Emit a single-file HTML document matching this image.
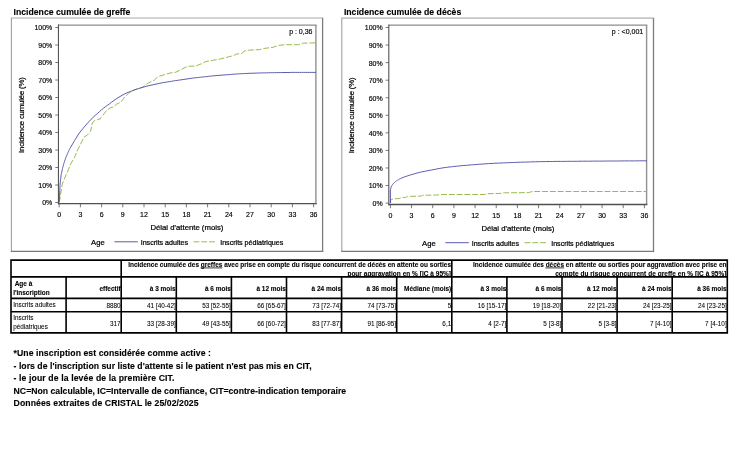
<!DOCTYPE html>
<html lang="fr"><head><meta charset="utf-8"><title>Incidence cumulée</title>
<style>
html,body{margin:0;padding:0;background:#fff}
body{width:750px;height:456px;position:relative;overflow:hidden;font-family:"Liberation Sans",Arial,sans-serif;color:#000}
svg{position:absolute;left:0;top:0}
svg text{font-family:"Liberation Sans",Arial,sans-serif;fill:#000;stroke:#000;stroke-width:0.22px}
.tk{font-size:7px;stroke-width:0.15px}
.al{font-size:7.75px}
.lg{font-size:7.1px}
.lg2{font-size:7.7px}
.tt{font-size:8.7px;font-weight:bold;stroke-width:0.12px}
.td{font-size:6.36px;stroke-width:0.06px}
.th{font-size:6.48px;font-weight:bold;stroke-width:0.1px}
.nt{font-size:8.67px;font-weight:bold;stroke-width:0.12px}
</style></head><body>
<svg width="750" height="456" viewBox="0 0 750 456">
<rect x="11.4" y="18.0" width="311.20000000000005" height="233.35" fill="#fff" stroke="none"/>
<line x1="10.9" y1="18.0" x2="323.20000000000005" y2="18.0" stroke="#c6c6c6" stroke-width="1.7"/>
<line x1="11.4" y1="18.0" x2="11.4" y2="251.95" stroke="#a0a0a0" stroke-width="1.1"/>
<line x1="322.6" y1="18.0" x2="322.6" y2="251.95" stroke="#7c7c7c" stroke-width="1.3"/>
<line x1="10.9" y1="251.35" x2="323.20000000000005" y2="251.35" stroke="#787878" stroke-width="1.25"/>
<line x1="57.95" y1="25.1" x2="316.59999999999997" y2="25.1" stroke="#8c8c8c" stroke-width="1.3"/>
<line x1="315.9" y1="25.1" x2="315.9" y2="204.2" stroke="#909090" stroke-width="1.4"/>
<line x1="58.45" y1="24.6" x2="58.45" y2="204.29999999999998" stroke="#555" stroke-width="1.1"/>
<line x1="57.95" y1="203.6" x2="316.59999999999997" y2="203.6" stroke="#505050" stroke-width="1.45"/>
<line x1="55.25" y1="202.50" x2="58.45" y2="202.50" stroke="#555" stroke-width="0.8"/>
<text x="52.35" y="205.45" text-anchor="end" class="tk">0%</text>
<line x1="55.25" y1="185.00" x2="58.45" y2="185.00" stroke="#555" stroke-width="0.8"/>
<text x="52.35" y="187.95" text-anchor="end" class="tk">10%</text>
<line x1="55.25" y1="167.50" x2="58.45" y2="167.50" stroke="#555" stroke-width="0.8"/>
<text x="52.35" y="170.45" text-anchor="end" class="tk">20%</text>
<line x1="55.25" y1="150.00" x2="58.45" y2="150.00" stroke="#555" stroke-width="0.8"/>
<text x="52.35" y="152.95" text-anchor="end" class="tk">30%</text>
<line x1="55.25" y1="132.50" x2="58.45" y2="132.50" stroke="#555" stroke-width="0.8"/>
<text x="52.35" y="135.45" text-anchor="end" class="tk">40%</text>
<line x1="55.25" y1="115.00" x2="58.45" y2="115.00" stroke="#555" stroke-width="0.8"/>
<text x="52.35" y="117.95" text-anchor="end" class="tk">50%</text>
<line x1="55.25" y1="97.50" x2="58.45" y2="97.50" stroke="#555" stroke-width="0.8"/>
<text x="52.35" y="100.45" text-anchor="end" class="tk">60%</text>
<line x1="55.25" y1="80.00" x2="58.45" y2="80.00" stroke="#555" stroke-width="0.8"/>
<text x="52.35" y="82.95" text-anchor="end" class="tk">70%</text>
<line x1="55.25" y1="62.50" x2="58.45" y2="62.50" stroke="#555" stroke-width="0.8"/>
<text x="52.35" y="65.45" text-anchor="end" class="tk">80%</text>
<line x1="55.25" y1="45.00" x2="58.45" y2="45.00" stroke="#555" stroke-width="0.8"/>
<text x="52.35" y="47.95" text-anchor="end" class="tk">90%</text>
<line x1="55.25" y1="27.50" x2="58.45" y2="27.50" stroke="#555" stroke-width="0.8"/>
<text x="52.35" y="30.45" text-anchor="end" class="tk">100%</text>
<line x1="59.20" y1="203.6" x2="59.20" y2="207.29999999999998" stroke="#555" stroke-width="0.8"/>
<text x="59.20" y="216.80" text-anchor="middle" class="tk">0</text>
<line x1="80.40" y1="203.6" x2="80.40" y2="207.29999999999998" stroke="#555" stroke-width="0.8"/>
<text x="80.40" y="216.80" text-anchor="middle" class="tk">3</text>
<line x1="101.60" y1="203.6" x2="101.60" y2="207.29999999999998" stroke="#555" stroke-width="0.8"/>
<text x="101.60" y="216.80" text-anchor="middle" class="tk">6</text>
<line x1="122.80" y1="203.6" x2="122.80" y2="207.29999999999998" stroke="#555" stroke-width="0.8"/>
<text x="122.80" y="216.80" text-anchor="middle" class="tk">9</text>
<line x1="144.00" y1="203.6" x2="144.00" y2="207.29999999999998" stroke="#555" stroke-width="0.8"/>
<text x="144.00" y="216.80" text-anchor="middle" class="tk">12</text>
<line x1="165.20" y1="203.6" x2="165.20" y2="207.29999999999998" stroke="#555" stroke-width="0.8"/>
<text x="165.20" y="216.80" text-anchor="middle" class="tk">15</text>
<line x1="186.40" y1="203.6" x2="186.40" y2="207.29999999999998" stroke="#555" stroke-width="0.8"/>
<text x="186.40" y="216.80" text-anchor="middle" class="tk">18</text>
<line x1="207.60" y1="203.6" x2="207.60" y2="207.29999999999998" stroke="#555" stroke-width="0.8"/>
<text x="207.60" y="216.80" text-anchor="middle" class="tk">21</text>
<line x1="228.80" y1="203.6" x2="228.80" y2="207.29999999999998" stroke="#555" stroke-width="0.8"/>
<text x="228.80" y="216.80" text-anchor="middle" class="tk">24</text>
<line x1="250.00" y1="203.6" x2="250.00" y2="207.29999999999998" stroke="#555" stroke-width="0.8"/>
<text x="250.00" y="216.80" text-anchor="middle" class="tk">27</text>
<line x1="271.20" y1="203.6" x2="271.20" y2="207.29999999999998" stroke="#555" stroke-width="0.8"/>
<text x="271.20" y="216.80" text-anchor="middle" class="tk">30</text>
<line x1="292.40" y1="203.6" x2="292.40" y2="207.29999999999998" stroke="#555" stroke-width="0.8"/>
<text x="292.40" y="216.80" text-anchor="middle" class="tk">33</text>
<line x1="313.60" y1="203.6" x2="313.60" y2="207.29999999999998" stroke="#555" stroke-width="0.8"/>
<text x="313.60" y="216.80" text-anchor="middle" class="tk">36</text>
<text x="186.90" y="230.20" text-anchor="middle" class="al">Délai d'attente (mois)</text>
<text transform="translate(23.70,115.00) rotate(-90)" text-anchor="middle" class="al" textLength="75.8" lengthAdjust="spacing">Incidence cumulée (%)</text>
<text x="312.50" y="34.00" text-anchor="end" class="tk">p : 0,36</text>
<path d="M59.3,202.4 L60.3,196.4 L62.2,184.3 L64.6,178.3 L68.3,169.9 L70.7,163.9 L74.3,157.8 L77.9,149.4 L81.5,142.2 L83.9,137.3 L87.5,134.9 L90.7,131.3 L91.9,124.1 L93.6,121.2 L97.2,119.8 L100.3,118.8 L100.9,117.6 L103.9,114.0 L106.8,110.1 L110.8,107.7 L113.7,106.7 L116.7,104.1 L120.7,102.2 L124.6,97.2 L128.5,93.3 L134.5,89.9 L142.4,87.4 L148.3,83.0 L154.2,80.1 L158.1,76.5 L163.1,75.1 L170.0,73.0 L175.9,72.2 L181.8,69.2 L187.8,66.2 L195.6,66.1 L201.6,63.7 L205.9,61.5 L213.8,60.1 L219.7,59.1 L225.7,57.6 L233.6,55.6 L236.5,54.0 L241.4,53.6 L244.4,51.1 L249.3,50.1 L259.2,49.7 L265.1,48.3 L273.0,47.3 L278.9,45.3 L284.9,44.7 L298.7,44.7 L302.6,43.2 L315.5,42.8" fill="none" stroke="#8db33a" stroke-width="0.9" stroke-dasharray="5.9 1.9"/>
<path d="M59.2,202.5 L59.5,196.1 L59.8,190.3 L60.0,185.4 L60.3,181.8 L60.6,179.3 L60.9,177.2 L61.1,175.3 L61.4,173.7 L61.7,172.3 L62.0,171.0 L62.2,169.7 L62.5,168.5 L62.8,167.3 L63.1,166.3 L63.4,165.2 L63.6,164.3 L63.9,163.3 L64.2,162.4 L64.5,161.6 L64.7,160.8 L65.0,160.0 L65.3,159.2 L65.6,158.4 L65.8,157.7 L66.1,156.9 L66.4,156.2 L66.7,155.5 L67.0,154.9 L67.2,154.2 L67.5,153.6 L67.8,153.0 L68.1,152.4 L68.3,151.8 L68.6,151.2 L68.9,150.6 L69.2,150.1 L69.4,149.5 L69.7,149.0 L70.0,148.4 L70.5,147.5 L72.6,143.9 L74.6,140.5 L76.7,137.1 L78.7,133.9 L80.8,131.1 L82.9,128.6 L84.9,126.2 L87.0,123.8 L89.1,121.5 L91.1,119.3 L93.2,117.3 L95.2,115.4 L97.3,113.6 L99.4,111.7 L101.4,109.9 L103.5,108.2 L105.6,106.7 L107.6,105.2 L109.7,103.7 L111.7,102.1 L113.8,100.6 L115.9,99.1 L117.9,97.8 L120.0,96.5 L122.1,95.3 L124.1,94.2 L126.2,93.2 L128.2,92.3 L130.3,91.5 L132.4,90.7 L134.4,89.9 L136.5,89.2 L138.6,88.6 L140.6,87.9 L142.7,87.3 L144.7,86.8 L146.8,86.2 L148.9,85.7 L150.9,85.2 L153.0,84.8 L155.0,84.3 L157.1,83.9 L159.2,83.4 L161.2,83.0 L163.3,82.6 L165.4,82.3 L167.4,81.9 L169.5,81.6 L171.5,81.3 L173.6,80.9 L175.7,80.6 L177.7,80.3 L179.8,80.0 L181.9,79.7 L183.9,79.4 L186.0,79.1 L188.0,78.8 L190.1,78.5 L192.2,78.2 L194.2,77.9 L196.3,77.7 L198.4,77.5 L200.4,77.2 L202.5,77.0 L204.5,76.8 L206.6,76.6 L208.7,76.3 L210.7,76.1 L212.8,75.9 L214.9,75.7 L216.9,75.5 L219.0,75.4 L221.0,75.2 L223.1,75.0 L225.2,74.9 L227.2,74.7 L229.3,74.6 L231.4,74.4 L233.4,74.2 L235.5,74.1 L237.5,73.9 L239.6,73.8 L241.7,73.7 L243.7,73.6 L245.8,73.5 L247.8,73.4 L249.9,73.3 L252.0,73.2 L254.0,73.2 L256.1,73.1 L258.2,73.0 L260.2,73.0 L262.3,72.9 L264.3,72.9 L266.4,72.8 L268.5,72.8 L270.5,72.7 L272.6,72.7 L274.7,72.7 L276.7,72.6 L278.8,72.6 L280.8,72.6 L282.9,72.5 L285.0,72.5 L287.0,72.5 L289.1,72.5 L291.2,72.4 L293.2,72.4 L295.3,72.4 L297.3,72.4 L299.4,72.4 L301.5,72.4 L303.5,72.4 L305.6,72.4 L307.7,72.4 L309.7,72.4 L311.8,72.4 L313.8,72.4 L315.9,72.4" fill="none" stroke="#4a4aa6" stroke-width="0.9"/>
<text x="91.10" y="244.80" class="lg2">Age</text>
<line x1="114.40" y1="241.8" x2="137.80" y2="241.8" stroke="#4a4aa6" stroke-width="0.9"/>
<text x="140.70" y="244.80" class="lg">Inscrits adultes</text>
<line x1="193.50" y1="241.8" x2="215.70" y2="241.8" stroke="#8db33a" stroke-width="0.9" stroke-dasharray="5.9 1.9"/>
<text x="220.20" y="244.80" class="lg">Inscrits pédiatriques</text>
<text x="13.50" y="14.6" class="tt">Incidence cumulée de greffe</text>
<rect x="341.8" y="18.2" width="311.7" height="233.20000000000002" fill="#fff" stroke="none"/>
<line x1="341.3" y1="18.2" x2="654.1" y2="18.2" stroke="#c6c6c6" stroke-width="1.7"/>
<line x1="341.8" y1="18.2" x2="341.8" y2="252.0" stroke="#a0a0a0" stroke-width="1.1"/>
<line x1="653.5" y1="18.2" x2="653.5" y2="252.0" stroke="#7c7c7c" stroke-width="1.3"/>
<line x1="341.3" y1="251.4" x2="654.1" y2="251.4" stroke="#787878" stroke-width="1.25"/>
<line x1="388.3" y1="25.2" x2="647.3000000000001" y2="25.2" stroke="#8c8c8c" stroke-width="1.3"/>
<line x1="646.6" y1="25.2" x2="646.6" y2="205.1" stroke="#909090" stroke-width="1.4"/>
<line x1="388.8" y1="24.7" x2="388.8" y2="205.2" stroke="#555" stroke-width="1.1"/>
<line x1="388.3" y1="204.5" x2="647.3000000000001" y2="204.5" stroke="#505050" stroke-width="1.45"/>
<line x1="385.6" y1="203.10" x2="388.8" y2="203.10" stroke="#555" stroke-width="0.8"/>
<text x="382.70" y="206.05" text-anchor="end" class="tk">0%</text>
<line x1="385.6" y1="185.54" x2="388.8" y2="185.54" stroke="#555" stroke-width="0.8"/>
<text x="382.70" y="188.49" text-anchor="end" class="tk">10%</text>
<line x1="385.6" y1="167.98" x2="388.8" y2="167.98" stroke="#555" stroke-width="0.8"/>
<text x="382.70" y="170.93" text-anchor="end" class="tk">20%</text>
<line x1="385.6" y1="150.42" x2="388.8" y2="150.42" stroke="#555" stroke-width="0.8"/>
<text x="382.70" y="153.37" text-anchor="end" class="tk">30%</text>
<line x1="385.6" y1="132.86" x2="388.8" y2="132.86" stroke="#555" stroke-width="0.8"/>
<text x="382.70" y="135.81" text-anchor="end" class="tk">40%</text>
<line x1="385.6" y1="115.30" x2="388.8" y2="115.30" stroke="#555" stroke-width="0.8"/>
<text x="382.70" y="118.25" text-anchor="end" class="tk">50%</text>
<line x1="385.6" y1="97.74" x2="388.8" y2="97.74" stroke="#555" stroke-width="0.8"/>
<text x="382.70" y="100.69" text-anchor="end" class="tk">60%</text>
<line x1="385.6" y1="80.18" x2="388.8" y2="80.18" stroke="#555" stroke-width="0.8"/>
<text x="382.70" y="83.13" text-anchor="end" class="tk">70%</text>
<line x1="385.6" y1="62.62" x2="388.8" y2="62.62" stroke="#555" stroke-width="0.8"/>
<text x="382.70" y="65.57" text-anchor="end" class="tk">80%</text>
<line x1="385.6" y1="45.06" x2="388.8" y2="45.06" stroke="#555" stroke-width="0.8"/>
<text x="382.70" y="48.01" text-anchor="end" class="tk">90%</text>
<line x1="385.6" y1="27.50" x2="388.8" y2="27.50" stroke="#555" stroke-width="0.8"/>
<text x="382.70" y="30.45" text-anchor="end" class="tk">100%</text>
<line x1="390.40" y1="204.5" x2="390.40" y2="208.2" stroke="#555" stroke-width="0.8"/>
<text x="390.40" y="217.70" text-anchor="middle" class="tk">0</text>
<line x1="411.57" y1="204.5" x2="411.57" y2="208.2" stroke="#555" stroke-width="0.8"/>
<text x="411.57" y="217.70" text-anchor="middle" class="tk">3</text>
<line x1="432.73" y1="204.5" x2="432.73" y2="208.2" stroke="#555" stroke-width="0.8"/>
<text x="432.73" y="217.70" text-anchor="middle" class="tk">6</text>
<line x1="453.90" y1="204.5" x2="453.90" y2="208.2" stroke="#555" stroke-width="0.8"/>
<text x="453.90" y="217.70" text-anchor="middle" class="tk">9</text>
<line x1="475.07" y1="204.5" x2="475.07" y2="208.2" stroke="#555" stroke-width="0.8"/>
<text x="475.07" y="217.70" text-anchor="middle" class="tk">12</text>
<line x1="496.23" y1="204.5" x2="496.23" y2="208.2" stroke="#555" stroke-width="0.8"/>
<text x="496.23" y="217.70" text-anchor="middle" class="tk">15</text>
<line x1="517.40" y1="204.5" x2="517.40" y2="208.2" stroke="#555" stroke-width="0.8"/>
<text x="517.40" y="217.70" text-anchor="middle" class="tk">18</text>
<line x1="538.57" y1="204.5" x2="538.57" y2="208.2" stroke="#555" stroke-width="0.8"/>
<text x="538.57" y="217.70" text-anchor="middle" class="tk">21</text>
<line x1="559.73" y1="204.5" x2="559.73" y2="208.2" stroke="#555" stroke-width="0.8"/>
<text x="559.73" y="217.70" text-anchor="middle" class="tk">24</text>
<line x1="580.90" y1="204.5" x2="580.90" y2="208.2" stroke="#555" stroke-width="0.8"/>
<text x="580.90" y="217.70" text-anchor="middle" class="tk">27</text>
<line x1="602.07" y1="204.5" x2="602.07" y2="208.2" stroke="#555" stroke-width="0.8"/>
<text x="602.07" y="217.70" text-anchor="middle" class="tk">30</text>
<line x1="623.23" y1="204.5" x2="623.23" y2="208.2" stroke="#555" stroke-width="0.8"/>
<text x="623.23" y="217.70" text-anchor="middle" class="tk">33</text>
<line x1="644.40" y1="204.5" x2="644.40" y2="208.2" stroke="#555" stroke-width="0.8"/>
<text x="644.40" y="217.70" text-anchor="middle" class="tk">36</text>
<text x="517.90" y="231.10" text-anchor="middle" class="al">Délai d'attente (mois)</text>
<text transform="translate(354.10,115.30) rotate(-90)" text-anchor="middle" class="al" textLength="75.8" lengthAdjust="spacing">Incidence cumulée (%)</text>
<text x="643.20" y="34.10" text-anchor="end" class="tk">p : &lt;0,001</text>
<path d="M390.4,203.2 L390.6,200.0 L393.0,198.9 L399.4,198.5 L401.0,197.7 L405.8,197.4 L407.4,196.4 L421.0,196.1 L422.6,195.3 L437.8,195.0 L442.6,194.5 L484.2,194.5 L487.4,193.7 L500.2,193.4 L504.3,192.8 L528.8,192.6 L532.0,191.5 L646.8,191.5" fill="none" stroke="#8db33a" stroke-width="0.9" stroke-dasharray="5.9 1.9"/>
<path d="M390.4,203.2 L390.4,189.6 L390.8,188.3 L391.1,187.1 L391.5,186.2 L391.9,185.6 L392.2,185.0 L392.6,184.5 L393.0,184.0 L393.3,183.6 L393.7,183.2 L394.1,182.9 L394.4,182.6 L394.8,182.2 L395.2,181.9 L395.5,181.6 L395.9,181.4 L396.2,181.1 L396.6,180.8 L397.0,180.6 L397.3,180.4 L397.7,180.1 L398.1,179.9 L398.4,179.7 L398.8,179.5 L399.2,179.3 L399.5,179.1 L399.9,178.9 L400.3,178.7 L400.6,178.6 L401.0,178.4 L402.0,177.9 L404.5,176.9 L406.9,176.1 L409.4,175.3 L411.9,174.5 L414.4,173.8 L416.8,173.1 L419.3,172.5 L421.8,171.9 L424.3,171.4 L426.7,170.9 L429.2,170.4 L431.7,170.0 L434.1,169.5 L436.6,169.0 L439.1,168.5 L441.6,168.1 L444.0,167.7 L446.5,167.4 L449.0,167.0 L451.5,166.8 L453.9,166.5 L456.4,166.2 L458.9,166.0 L461.3,165.7 L463.8,165.5 L466.3,165.3 L468.8,165.1 L471.2,164.9 L473.7,164.7 L476.2,164.5 L478.7,164.3 L481.1,164.1 L483.6,164.0 L486.1,163.8 L488.5,163.6 L491.0,163.5 L493.5,163.3 L496.0,163.2 L498.4,163.1 L500.9,163.0 L503.4,162.9 L505.9,162.8 L508.3,162.7 L510.8,162.6 L513.3,162.5 L515.7,162.4 L518.2,162.3 L520.7,162.2 L523.2,162.1 L525.6,162.1 L528.1,162.0 L530.6,161.9 L533.1,161.8 L535.5,161.8 L538.0,161.7 L540.5,161.6 L542.9,161.6 L545.4,161.6 L547.9,161.5 L550.4,161.5 L552.8,161.5 L555.3,161.4 L557.8,161.4 L560.3,161.4 L562.7,161.4 L565.2,161.4 L567.7,161.3 L570.1,161.3 L572.6,161.3 L575.1,161.3 L577.6,161.3 L580.0,161.2 L582.5,161.2 L585.0,161.2 L587.5,161.2 L589.9,161.2 L592.4,161.1 L594.9,161.1 L597.3,161.1 L599.8,161.1 L602.3,161.1 L604.8,161.1 L607.2,161.0 L609.7,161.0 L612.2,161.0 L614.7,161.0 L617.1,161.0 L619.6,161.0 L622.1,160.9 L624.5,160.9 L627.0,160.9 L629.5,160.9 L632.0,160.9 L634.4,160.9 L636.9,160.9 L639.4,160.8 L641.9,160.8 L644.3,160.8 L646.8,160.8" fill="none" stroke="#4a4aa6" stroke-width="0.9"/>
<text x="422.10" y="245.70" class="lg2">Age</text>
<line x1="445.40" y1="242.7" x2="468.80" y2="242.7" stroke="#4a4aa6" stroke-width="0.9"/>
<text x="471.70" y="245.70" class="lg">Inscrits adultes</text>
<line x1="524.50" y1="242.7" x2="546.70" y2="242.7" stroke="#8db33a" stroke-width="0.9" stroke-dasharray="5.9 1.9"/>
<text x="551.20" y="245.70" class="lg">Inscrits pédiatriques</text>
<text x="343.90" y="14.6" class="tt">Incidence cumulée de décès</text>
<clipPath id="h1"><rect x="121.2" y="260.1" width="606.1" height="16.799999999999955"/></clipPath>
<g clip-path="url(#h1)">
<text x="451.00" y="266.60" text-anchor="end" class="th">Incidence cumulée des <tspan text-decoration="underline">greffes</tspan> avec prise en compte du risque concurrent de décès en attente ou sorties</text>
<text x="451.00" y="275.60" text-anchor="end" class="th" textLength="103.6" lengthAdjust="spacing">pour aggravation en % [IC à 95%]</text>
<text x="726.50" y="266.60" text-anchor="end" class="th">Incidence cumulée des <tspan text-decoration="underline">décès</tspan> en attente ou sorties pour aggravation avec prise en</text>
<text x="726.50" y="275.60" text-anchor="end" class="th" textLength="171.3" lengthAdjust="spacing">compte du risque concurrent de greffe en % [IC à 95%]</text>
</g>
<text x="14.70" y="285.70" class="th">Age à</text>
<text x="13.20" y="294.70" class="th">l'inscription</text>
<text x="120.60" y="291.00" text-anchor="end" class="th">effectif</text>
<text x="175.70" y="291.00" text-anchor="end" class="th">à 3 mois</text>
<text x="230.80" y="291.00" text-anchor="end" class="th">à 6 mois</text>
<text x="285.90" y="291.00" text-anchor="end" class="th">à 12 mois</text>
<text x="341.00" y="291.00" text-anchor="end" class="th">à 24 mois</text>
<text x="396.10" y="291.00" text-anchor="end" class="th">à 36 mois</text>
<text x="451.20" y="291.00" text-anchor="end" class="th">Médiane (mois)</text>
<text x="506.30" y="291.00" text-anchor="end" class="th">à 3 mois</text>
<text x="561.40" y="291.00" text-anchor="end" class="th">à 6 mois</text>
<text x="616.50" y="291.00" text-anchor="end" class="th">à 12 mois</text>
<text x="671.60" y="291.00" text-anchor="end" class="th">à 24 mois</text>
<text x="726.70" y="291.00" text-anchor="end" class="th">à 36 mois</text>
<text x="13.20" y="307.30" class="td">Inscrits adultes</text>
<text x="120.60" y="307.60" text-anchor="end" class="td">8880</text>
<text x="175.70" y="307.60" text-anchor="end" class="td">41 [40-42]</text>
<text x="230.80" y="307.60" text-anchor="end" class="td">53 [52-55]</text>
<text x="285.90" y="307.60" text-anchor="end" class="td">66 [65-67]</text>
<text x="341.00" y="307.60" text-anchor="end" class="td">73 [72-74]</text>
<text x="396.10" y="307.60" text-anchor="end" class="td">74 [73-75]</text>
<text x="451.20" y="307.60" text-anchor="end" class="td">5</text>
<text x="506.30" y="307.60" text-anchor="end" class="td">16 [15-17]</text>
<text x="561.40" y="307.60" text-anchor="end" class="td">19 [18-20]</text>
<text x="616.50" y="307.60" text-anchor="end" class="td">22 [21-23]</text>
<text x="671.60" y="307.60" text-anchor="end" class="td">24 [23-25]</text>
<text x="726.70" y="307.60" text-anchor="end" class="td">24 [23-25]</text>
<text x="13.20" y="320.20" class="td">Inscrits</text>
<text x="13.20" y="328.70" class="td">pédiatriques</text>
<text x="120.60" y="325.70" text-anchor="end" class="td">317</text>
<text x="175.70" y="325.70" text-anchor="end" class="td">33 [28-39]</text>
<text x="230.80" y="325.70" text-anchor="end" class="td">49 [43-55]</text>
<text x="285.90" y="325.70" text-anchor="end" class="td">66 [60-72]</text>
<text x="341.00" y="325.70" text-anchor="end" class="td">83 [77-87]</text>
<text x="396.10" y="325.70" text-anchor="end" class="td">91 [86-95]</text>
<text x="451.20" y="325.70" text-anchor="end" class="td">6,1</text>
<text x="506.30" y="325.70" text-anchor="end" class="td">4 [2-7]</text>
<text x="561.40" y="325.70" text-anchor="end" class="td">5 [3-8]</text>
<text x="616.50" y="325.70" text-anchor="end" class="td">5 [3-8]</text>
<text x="671.60" y="325.70" text-anchor="end" class="td">7 [4-10]</text>
<text x="726.70" y="325.70" text-anchor="end" class="td">7 [4-10]</text>
<path d="M10.20,260.10H728.10M10.20,276.90H728.10M10.20,298.35H728.10M10.20,311.75H728.10M10.20,332.90H728.10M11.00,260.10V332.90M66.10,276.90V332.90M121.20,260.10V332.90M176.30,276.90V332.90M231.40,276.90V332.90M286.50,276.90V332.90M341.60,276.90V332.90M396.70,276.90V332.90M451.80,260.10V332.90M506.90,276.90V332.90M562.00,276.90V332.90M617.10,276.90V332.90M672.20,276.90V332.90M727.30,260.10V332.90" stroke="#000" stroke-width="1.6" fill="none"/>
<text x="13.6" y="355.90" class="nt" textLength="197.3" lengthAdjust="spacing">*Une inscription est considérée comme active :</text><text x="13.6" y="368.50" class="nt" textLength="298.0" lengthAdjust="spacing">- lors de l'inscription sur liste d'attente si le patient n'est pas mis en CIT,</text><text x="13.6" y="381.10" class="nt" textLength="160.8" lengthAdjust="spacing">- le jour de la levée de la première CIT.</text><text x="13.6" y="393.70" class="nt" textLength="332.6" lengthAdjust="spacing">NC=Non calculable, IC=Intervalle de confiance, CIT=contre-indication temporaire</text><text x="13.6" y="406.30" class="nt" textLength="185.0" lengthAdjust="spacing">Données extraites de CRISTAL le 25/02/2025</text>
</svg>
</body></html>
